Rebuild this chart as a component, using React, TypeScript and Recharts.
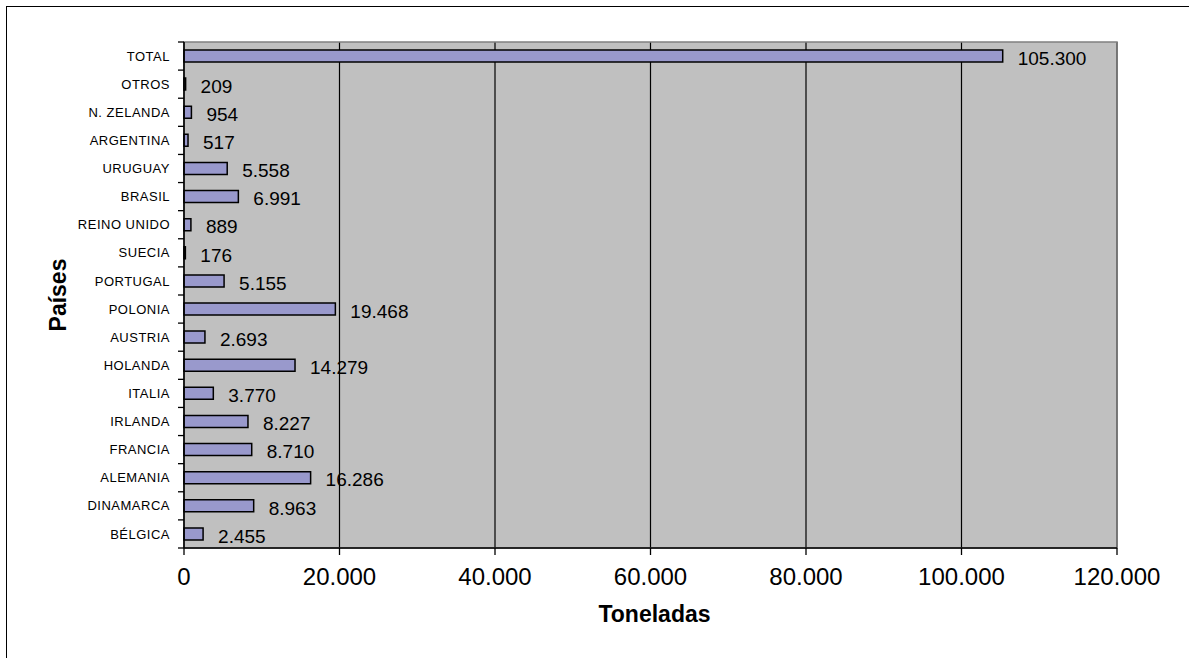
import React from 'react';
import { BarChart, Bar, XAxis, YAxis, CartesianGrid, ReferenceArea, LabelList } from 'recharts';

const countries = [
  'TOTAL', 'OTROS', 'N. ZELANDA', 'ARGENTINA', 'URUGUAY', 'BRASIL', 'REINO UNIDO', 'SUECIA',
  'PORTUGAL', 'POLONIA', 'AUSTRIA', 'HOLANDA', 'ITALIA', 'IRLANDA', 'FRANCIA', 'ALEMANIA',
  'DINAMARCA', 'BÉLGICA',
];
const tonnes = [
  105300, 209, 954, 517, 5558, 6991, 889, 176, 5155, 19468, 2693, 14279, 3770, 8227, 8710, 16286,
  8963, 2455,
];
const xTicks = [0, 20000, 40000, 60000, 80000, 100000, 120000];

const data = countries.map((c, i) => ({ pais: c, toneladas: tonnes[i] }));

const FONT = '"Liberation Sans", Arial, Helvetica, sans-serif';
const fmt = (n: number) => String(n).replace(/\B(?=(\d{3})+(?!\d))/g, '.');

const TICK_SIZE = 6;
const TICK_MARGIN = 8;

const CatTick = (props: any) => {
  const { x, y, payload, index } = props;
  const half = payload && typeof payload.offset === 'number' ? payload.offset : 14;
  const ax = x + TICK_SIZE + TICK_MARGIN;
  return (
    <g>
      <text
        x={x}
        y={y}
        dy="0.355em"
        textAnchor="end"
        fontSize={13}
        letterSpacing={0.5}
        fill="#000"
        fontFamily={FONT}
      >
        {payload.value}
      </text>
      <line x1={ax - TICK_SIZE} x2={ax} y1={y + half} y2={y + half} stroke="#000" strokeWidth={1.3} />
      {index === 0 && (
        <line x1={ax - TICK_SIZE} x2={ax} y1={y - half} y2={y - half} stroke="#000" strokeWidth={1.3} />
      )}
    </g>
  );
};

const ValueLabel = (props: any) => {
  const { x, y, width, height, value } = props;
  return (
    <text
      x={Number(x) + Number(width) + 15}
      y={Number(y) + Number(height) / 2 + 2}
      dy="0.355em"
      textAnchor="start"
      fontSize={19}
      fill="#000"
      fontFamily={FONT}
    >
      {fmt(Number(value))}
    </text>
  );
};

export default function App() {
  return (
    <div
      style={{
        position: 'absolute',
        left: 0,
        top: 0,
        width: 1189,
        height: 658,
        overflow: 'hidden',
        background: '#fff',
        fontFamily: FONT,
      }}
    >
      <div
        style={{
          position: 'absolute',
          left: 6,
          top: 6,
          width: 1300,
          height: 800,
          border: '1.5px solid #000',
          boxSizing: 'border-box',
        }}
      />
      <div style={{ position: 'absolute', left: 0, top: 0 }}>
        <BarChart
          width={1189}
          height={658}
          data={data}
          layout="vertical"
          margin={{ top: 42, right: 72, bottom: 0, left: 0 }}
          style={{ fontFamily: FONT }}
        >
          <CartesianGrid horizontal={false} vertical stroke="#000" strokeWidth={1.2} fill="#C0C0C0" fillOpacity={1} />
          <ReferenceArea x1={0} x2={120000} fill="none" stroke="#808080" strokeWidth={1.5} ifOverflow="visible" />
          <XAxis
            type="number"
            domain={[0, 120000]}
            ticks={xTicks}
            interval={0}
            tickFormatter={fmt}
            height={110}
            tickSize={7}
            tickMargin={13}
            stroke="#000"
            axisLine={{ stroke: '#000', strokeWidth: 1.5 }}
            tickLine={{ stroke: '#000', strokeWidth: 1.3 }}
            tick={{ fill: '#000', fontSize: 24, fontFamily: FONT }}
            label={{
              value: 'Toneladas',
              position: 'insideBottom',
              offset: 36,
              dx: 4,
              fill: '#000',
              fontSize: 23,
              fontWeight: 'bold',
              fontFamily: FONT,
            }}
          />
          <YAxis
            type="category"
            dataKey="pais"
            width={184}
            interval={0}
            tickSize={TICK_SIZE}
            tickMargin={TICK_MARGIN}
            tickLine={false}
            axisLine={{ stroke: '#000', strokeWidth: 1.5 }}
            tick={<CatTick />}
            label={{
              value: 'Países',
              angle: -90,
              position: 'insideLeft',
              offset: 58,
              fill: '#000',
              fontSize: 23,
              fontWeight: 'bold',
              fontFamily: FONT,
              style: { textAnchor: 'middle' },
            }}
          />
          <Bar
            dataKey="toneladas"
            barSize={12}
            fill="#9999CC"
            stroke="#000"
            strokeWidth={1.5}
            isAnimationActive={false}
          >
            <LabelList dataKey="toneladas" content={<ValueLabel />} />
          </Bar>
        </BarChart>
      </div>
    </div>
  );
}
